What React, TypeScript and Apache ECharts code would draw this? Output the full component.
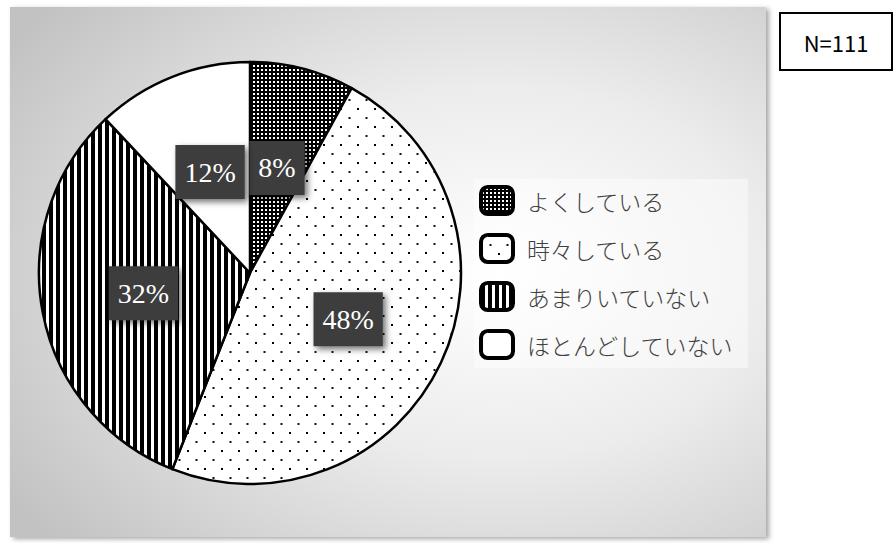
import React, { useEffect, useRef } from "react";
import * as echarts from "echarts";

const categories = ["よくしている", "時々している", "あまりいていない", "ほとんどしていない"];
const values = [8, 48, 32, 12];
const sampleLabel = "N=111";

function makeTile(w: number, h: number, draw: (ctx: CanvasRenderingContext2D) => void) {
  const c = document.createElement("canvas");
  c.width = w;
  c.height = h;
  const ctx = c.getContext("2d") as CanvasRenderingContext2D;
  draw(ctx);
  return { image: c, repeat: "repeat", imageWidth: w, imageHeight: h } as any;
}

export default function App() {
  const ref = useRef<HTMLDivElement>(null);

  useEffect(() => {
    if (!ref.current) return;
    const chart = echarts.init(ref.current, null, { renderer: "svg" });

    const dense = makeTile(4, 4, (ctx) => {
      ctx.fillStyle = "#000";
      ctx.fillRect(0, 0, 4, 4);
      ctx.fillStyle = "#fff";
      ctx.fillRect(1, 1, 2, 2);
    });
    const sparse = makeTile(17, 18, (ctx) => {
      ctx.fillStyle = "#fff";
      ctx.fillRect(0, 0, 17, 18);
      ctx.fillStyle = "#000";
      ctx.fillRect(0, 0, 2, 2);
      ctx.fillStyle = "#111";
      ctx.fillRect(8.5, 9, 2, 2);
    });
    const stripes = makeTile(21, 4, (ctx) => {
      ctx.fillStyle = "#fff";
      ctx.fillRect(0, 0, 21, 4);
      ctx.fillStyle = "#000";
      ctx.fillRect(0, 0, 4, 4);
      ctx.fillRect(7, 0, 4, 4);
      ctx.fillRect(14, 0, 4, 4);
    });
    const fills = [dense, sparse, stripes, "#ffffff"];

    chart.setOption({
      animation: false,
      graphic: [
        {
          type: "rect",
          z: -10,
          silent: true,
          shape: { x: 10, y: 7, width: 756, height: 530 },
          style: {
            fill: new echarts.graphic.RadialGradient(0.65, 0.5, 0.78, [
              { offset: 0, color: "#ffffff" },
              { offset: 0.45, color: "#ececec" },
              { offset: 1, color: "#c2c2c2" },
            ]),
            shadowBlur: 5,
            shadowColor: "rgba(0,0,0,0.35)",
            shadowOffsetX: 3,
            shadowOffsetY: 2,
          },
        },
        {
          type: "rect",
          z: 10,
          silent: true,
          shape: { x: 780, y: 13, width: 112, height: 57 },
          style: { fill: "#ffffff", stroke: "#000000", lineWidth: 2 },
        },
        {
          type: "text",
          z: 11,
          silent: true,
          x: 836,
          y: 42,
          style: {
            text: sampleLabel,
            fill: "#000000",
            font: '22px "Noto Sans CJK JP"',
            align: "center",
            verticalAlign: "middle",
          },
        },
      ],
      legend: {
        orient: "vertical",
        left: 474,
        top: 179,
        padding: [6, 14, 8, 5],
        itemGap: 17,
        itemWidth: 32,
        itemHeight: 27,
        icon: "roundRect",
        selectedMode: false,
        backgroundColor: "rgba(255,255,255,0.45)",
        itemStyle: { borderColor: "#000", borderWidth: 4 },
        textStyle: {
          fontSize: 23,
          lineHeight: 26,
          color: "#404040",
          fontFamily: '"Noto Sans CJK JP"',
          fontWeight: 300,
          padding: [0, 0, 0, 9],
        },
        data: categories,
      },
      series: [
        {
          type: "pie",
          center: [250, 273],
          radius: 211,
          startAngle: 90,
          clockwise: true,
          silent: true,
          emphasis: { disabled: true },
          itemStyle: { borderColor: "#000", borderWidth: 2.5 },
          label: {
            show: true,
            position: "inside",
            formatter: "{c}%",
            color: "#ffffff",
            fontFamily: '"Liberation Serif"',
            fontSize: 28,
            lineHeight: 30,
            backgroundColor: "#3d3d3d",
            padding: [12, 9, 12, 9],
            shadowColor: "rgba(0,0,0,0.55)",
            shadowBlur: 6,
            shadowOffsetX: 3,
            shadowOffsetY: 3,
          },
          labelLine: { show: false },
          data: categories.map((name, i) => ({
            name,
            value: values[i],
            itemStyle: { color: fills[i] },
          })),
        },
      ],
    });

    return () => chart.dispose();
  }, []);

  return (
    <div style={{ position: "absolute", left: 0, top: 0, width: 894, height: 543, background: "#fff" }}>
      <div ref={ref} style={{ width: 894, height: 543 }} />
    </div>
  );
}
